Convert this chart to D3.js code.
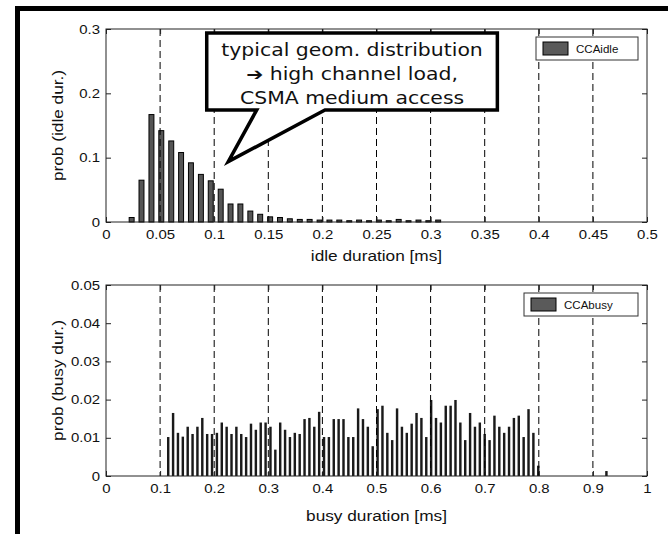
<!DOCTYPE html>
<html><head><meta charset="utf-8">
<script src="https://cdn.jsdelivr.net/npm/d3@7"></script>
<style>body{margin:0;background:#fff}svg{display:block}</style>
</head><body><svg id="c" width="668" height="534"></svg>
<script>
// ---------- data ----------
const idleCenters = [0.0237,0.0328,0.0420,0.0511,0.0603,0.0694,0.0785,0.0877,0.0968,0.1060,
  0.1151,0.1242,0.1334,0.1425,0.1517,0.1608,0.1699,0.1791,0.1882,0.1974,0.2065,0.2156,
  0.2248,0.2339,0.2431,0.2522,0.2613,0.2705,0.2796,0.2888,0.2979,0.3070];
const idleProb = [0.007,0.065,0.167,0.142,0.126,0.108,0.092,0.074,0.064,0.051,
  0.028,0.028,0.017,0.012,0.008,0.007,0.005,0.004,0.004,0.003,0.003,0.003,
  0.002,0.003,0.002,0.003,0.002,0.004,0.002,0.003,0.002,0.003];
const idleBinWidth = 0.00914;

const busyCenters = [0.115,0.124,0.133,0.142,0.151,0.160,0.169,0.178,0.187,0.196,0.205,0.214,
  0.223,0.232,0.241,0.250,0.259,0.268,0.277,0.286,0.295,0.304,0.313,0.322,0.331,0.340,0.349,0.358,
  0.367,0.376,0.385,0.394,0.403,0.412,0.421,0.430,0.439,0.448,0.457,0.466,0.475,0.484,0.493,0.502,
  0.511,0.520,0.529,0.538,0.547,0.556,0.565,0.574,0.583,0.592,0.601,0.610,0.619,0.628,0.637,0.646,
  0.655,0.664,0.673,0.682,0.691,0.700,0.709,0.718,0.727,0.736,0.745,0.754,0.763,0.772,0.781,0.790,
  0.799,0.925];
const busyProb = [0.0102,0.0165,0.0113,0.0103,0.0129,0.0110,0.0129,0.0152,0.0110,0.0110,0.0113,0.0140,
  0.0129,0.0110,0.0129,0.0110,0.0102,0.0137,0.0121,0.0140,0.0140,0.0129,0.0069,0.0140,0.0121,0.0102,0.0113,0.0110,
  0.0149,0.0152,0.0129,0.0168,0.0102,0.0102,0.0149,0.0149,0.0149,0.0102,0.0102,0.0177,0.0149,0.0129,0.0078,0.0175,
  0.0184,0.0113,0.0094,0.0177,0.0129,0.0113,0.0137,0.0165,0.0152,0.0102,0.0199,0.0152,0.0140,0.0184,0.0184,0.0199,
  0.0140,0.0094,0.0165,0.0129,0.0140,0.0110,0.0094,0.0158,0.0129,0.0113,0.0129,0.0152,0.0158,0.0102,0.0175,0.0113,
  0.0027,0.0013];
const busyBinWidth = 0.009;

const idleXTicks = [0,0.05,0.1,0.15,0.2,0.25,0.3,0.35,0.4,0.45,0.5];
const idleYTicks = [0,0.1,0.2,0.3];
const idleGrid = [0.05,0.1,0.15,0.2,0.25,0.3,0.35,0.4,0.45];
const busyXTicks = [0,0.1,0.2,0.3,0.4,0.5,0.6,0.7,0.8,0.9,1];
const busyYTicks = [0,0.01,0.02,0.03,0.04,0.05];
const busyGrid = [0.1,0.2,0.3,0.4,0.5,0.6,0.7,0.8,0.9];

const calloutArrow = "\u2794";
const calloutLines = ["typical geom. distribution"," high channel load,","CSMA medium access"];
// callout shape in data coordinates of the top panel
const calloutBox = {x0:0.0931, x1:0.3617, y0:0.1742, y1:0.2939};
const calloutPointer = {base0:0.1393, base1:0.2024, tipX:0.1130, tipY:0.0938};

// ---------- drawing ----------
const svg = d3.select("#c");
svg.append("rect").attr("width",668).attr("height",534).attr("fill","#fff");

const SX = 1.15; // horizontal text stretch of the original picture
const L = 106, R = 647;

function panel(cfg){
  const x = d3.scaleLinear().domain(cfg.xDomain).range([L,R]);
  const y = d3.scaleLinear().domain(cfg.yDomain).range([cfg.bottom,cfg.top]);
  const g = svg.append("g");

  g.selectAll("rect.bar").data(cfg.centers).join("rect")
    .attr("class","bar")
    .attr("x",(d)=>x(d - cfg.binW*cfg.frac/2))
    .attr("width",x(cfg.binW*cfg.frac)-x(0))
    .attr("y",(d,i)=>y(cfg.values[i]))
    .attr("height",(d,i)=>y(0)-y(cfg.values[i]))
    .attr("fill",cfg.fill).attr("stroke",cfg.stroke).attr("stroke-width",cfg.sw);

  g.selectAll("line.grid").data(cfg.grid).join("line")
    .attr("x1",d=>x(d)).attr("x2",d=>x(d))
    .attr("y1",cfg.top).attr("y2",cfg.bottom)
    .attr("stroke","#000").attr("stroke-width",1).attr("stroke-dasharray","7,4");

  const fmt = d=>String(d);
  const ax = (axis, tx, ty, labels)=>{
    const a = g.append("g").attr("transform",`translate(${tx},${ty})`).call(axis);
    a.select(".domain").remove();
    a.selectAll(".tick line").attr("stroke","#222");
    a.selectAll("text").attr("font-family","Liberation Sans, Arial, sans-serif")
      .attr("font-size",13).attr("fill","#111");
    if(!labels) a.selectAll("text").remove();
    return a;
  };
  const bx = ax(d3.axisBottom(x).tickValues(cfg.xTicks).tickFormat(fmt).tickSize(-5).tickPadding(8), 0, cfg.bottom, true);
  bx.selectAll("text").attr("transform",`scale(${SX},1)`);
  const ly = ax(d3.axisLeft(y).tickValues(cfg.yTicks).tickFormat(fmt).tickSize(-5).tickPadding(6), L, 0, true);
  ly.selectAll("text").attr("x",-6/SX).attr("transform",`scale(${SX},1)`);
  ax(d3.axisTop(x).tickValues(cfg.xTicks).tickSize(-5), 0, cfg.top, false);
  ax(d3.axisRight(y).tickValues(cfg.yTicks).tickSize(-5), R, 0, false);

  g.append("rect").attr("x",L).attr("y",cfg.top).attr("width",R-L).attr("height",cfg.bottom-cfg.top)
    .attr("fill","none").attr("stroke","#222").attr("stroke-width",1);

  g.append("text").attr("transform",`translate(${(L+R)/2},${cfg.bottom+cfg.xLabOff}) scale(${SX},1)`)
    .attr("text-anchor","middle").attr("font-family","Liberation Sans, Arial, sans-serif")
    .attr("font-size",15).attr("fill","#111").text(cfg.xLabel);
  g.append("text").attr("transform",`translate(63,${(cfg.top+cfg.bottom)/2}) rotate(-90) scale(${SX},1)`)
    .attr("text-anchor","middle").attr("font-family","Liberation Sans, Arial, sans-serif")
    .attr("font-size",15).attr("fill","#111").text(cfg.yLabel);

  const lg = g.append("g");
  lg.append("rect").attr("x",R-cfg.legW-9).attr("y",cfg.top+8).attr("width",cfg.legW).attr("height",23)
    .attr("fill","#fff").attr("stroke","#333").attr("stroke-width",1);
  lg.append("rect").attr("x",R-cfg.legW-2).attr("y",cfg.top+13).attr("width",25).attr("height",13)
    .attr("fill","#5a5a5a").attr("stroke","#000").attr("stroke-width",1);
  lg.append("text").attr("transform",`translate(${R-cfg.legW+31},${cfg.top+24}) scale(1.05,1)`)
    .attr("font-family","Liberation Sans, Arial, sans-serif").attr("font-size",11).attr("fill","#111")
    .text(cfg.legend);
  return {x,y,g};
}

const idlePanel = panel({xDomain:[0,0.5], yDomain:[0,0.3], top:29, bottom:222,
  centers:idleCenters, values:idleProb, binW:idleBinWidth, frac:0.5,
  fill:"#555", stroke:"#000", sw:1, grid:idleGrid, xTicks:idleXTicks, yTicks:idleYTicks,
  xLabel:"idle duration [ms]", yLabel:"prob (idle dur.)", legend:"CCAidle", legW:102, xLabOff:39});

const busyPanel = panel({xDomain:[0,1], yDomain:[0,0.05], top:285, bottom:476,
  centers:busyCenters, values:busyProb, binW:busyBinWidth, frac:0.5,
  fill:"#1a1a1a", stroke:"none", sw:0, grid:busyGrid, xTicks:busyXTicks, yTicks:busyYTicks,
  xLabel:"busy duration [ms]", yLabel:"prob (busy dur.)", legend:"CCAbusy", legW:114, xLabOff:45});

// callout
const cx = idlePanel.x, cy = idlePanel.y;
const pts = [
  [cx(calloutBox.x0),cy(calloutBox.y1)],[cx(calloutBox.x1),cy(calloutBox.y1)],
  [cx(calloutBox.x1),cy(calloutBox.y0)],[cx(calloutPointer.base1),cy(calloutBox.y0)],
  [cx(calloutPointer.tipX),cy(calloutPointer.tipY)],[cx(calloutPointer.base0),cy(calloutBox.y0)],
  [cx(calloutBox.x0),cy(calloutBox.y0)]];
svg.append("path").attr("d","M"+pts.map(p=>p.join(",")).join("L")+"Z")
  .attr("fill","#fff").attr("stroke","#000").attr("stroke-width",3.5).attr("stroke-linejoin","miter");
const ccx = (cx(calloutBox.x0)+cx(calloutBox.x1))/2;
const baselines = [55.5,80,103.5];
calloutLines.forEach((t,i)=>{
  const tx = svg.append("text").attr("transform",`translate(${ccx},${baselines[i]}) scale(1.2,1)`)
    .attr("text-anchor","middle").attr("font-family","DejaVu Sans, Verdana, sans-serif")
    .attr("font-size",17).attr("fill","#111");
  if(i===1){
    tx.append("tspan").attr("font-weight","bold").text(calloutArrow);
  }
  tx.append("tspan").text(t);
});

// outer frame (thick black border at top and left)
svg.append("rect").attr("x",15).attr("y",6).attr("width",668-15).attr("height",5).attr("fill","#000");
svg.append("rect").attr("x",15).attr("y",6).attr("width",5).attr("height",534-6).attr("fill","#000");
</script></body></html>
